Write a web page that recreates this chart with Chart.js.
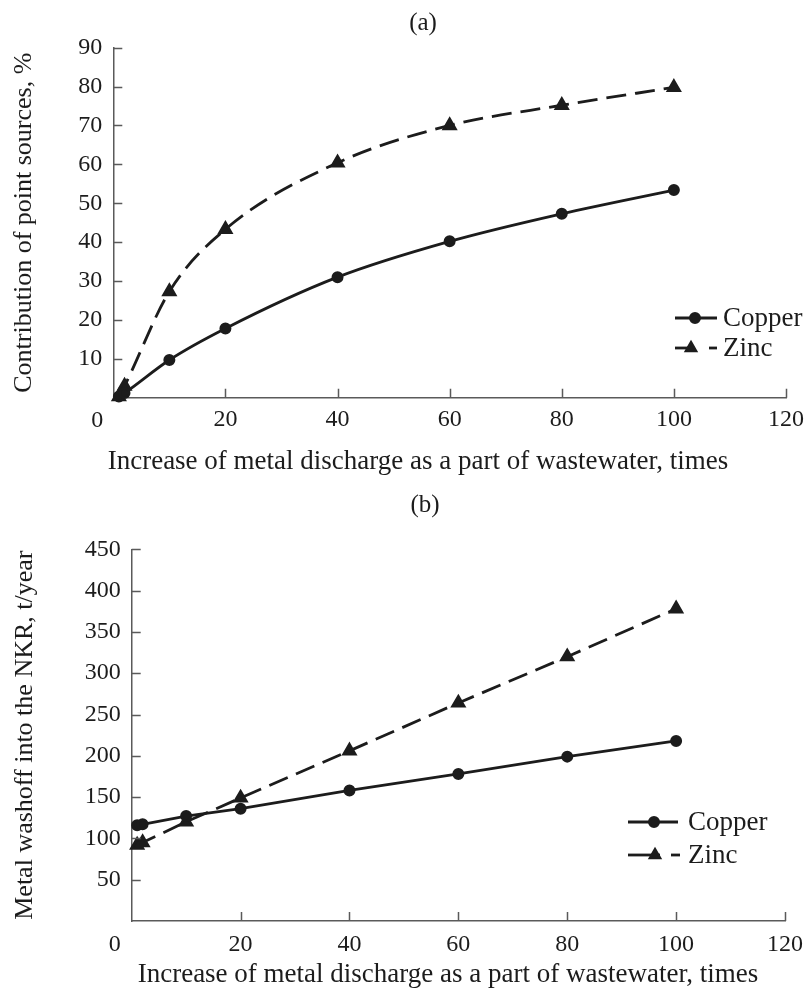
<!DOCTYPE html>
<html>
<head>
<meta charset="utf-8">
<script src="https://cdn.jsdelivr.net/npm/chart.js@4.4.0/dist/chart.umd.min.js"></script>
<style>
  html, body { margin: 0; padding: 0; background: #fff; }
  #wrap { position: relative; width: 812px; height: 999px; overflow: hidden; }
  .panel { position: absolute; left: 0; width: 812px; }
  #pa { top: 0; height: 485px; }
  #pb { top: 485px; height: 514px; }
</style>
</head>
<body>
<div id="wrap">
  <div class="panel" id="pa"><canvas id="chartA" width="812" height="485"></canvas></div>
  <div class="panel" id="pb"><canvas id="chartB" width="812" height="514"></canvas></div>
</div>
<script>
// Increase of metal discharge with wastewater, times
const xTimes = [1, 2, 10, 20, 40, 60, 80, 100];

// (a) contribution of point sources, %
const copperShare = [0.3, 1.2, 9.7, 17.8, 31.0, 40.2, 47.3, 53.4];
const zincShare   = [0.3, 3.0, 27.3, 43.3, 60.4, 70.0, 75.2, 79.8];

// (b) metal washoff into the NKR, t/year
const copperWashoff = [116, 117, 127, 136, 158, 178, 199, 218];
const zincWashoff   = [92, 95, 120, 149, 206, 264, 320, 378];

// tick values
const xTicks       = [0, 20, 40, 60, 80, 100, 120];
const shareTicks   = [0, 10, 20, 30, 40, 50, 60, 70, 80, 90];
const washoffTicks = [0, 50, 100, 150, 200, 250, 300, 350, 400, 450];

const seriesNames = ['Copper', 'Zinc'];

const FONT = '"Liberation Serif", "Times New Roman", serif';
const FS_TICK = 24;
const FS_TITLE = 27;
const FS_YTITLE = 26;
const FS_PANEL = 25;
const INK = '#1c1c1c';
const AXIS = '#5a5a5a';

function pts(xs, ys) { return xs.map((x, i) => ({ x: x, y: ys[i] })); }

function makeDatasets(copper, zinc, smooth) {
  return [
    {
      label: seriesNames[0],
      data: pts(xTimes, copper),
      borderColor: INK, backgroundColor: INK,
      borderWidth: 2.8,
      pointStyle: 'circle', pointRadius: 4.6, pointHoverRadius: 4.6,
      cubicInterpolationMode: smooth ? 'monotone' : 'default',
      tension: 0, clip: false
    },
    {
      label: seriesNames[1],
      data: pts(xTimes, zinc),
      borderColor: INK, backgroundColor: INK,
      borderWidth: 2.8, borderDash: [20, 9],
      pointStyle: 'triangle', pointRadius: 6.5, pointHoverRadius: 6.5,
      cubicInterpolationMode: smooth ? 'monotone' : 'default',
      tension: 0, clip: false
    }
  ];
}

// inward tick marks, panel labels, titles and the legend
const decor = {
  id: 'decor',
  afterDraw(chart, args, o) {
    const ctx = chart.ctx;
    const xs = chart.scales.x, ys = chart.scales.y;
    const a = chart.chartArea;
    ctx.save();
    ctx.strokeStyle = AXIS;
    ctx.lineWidth = 1.5;
    ctx.setLineDash([]);
    ctx.beginPath();
    xs.ticks.forEach(t => {
      if (t.value === 0) return;
      const px = Math.round(xs.getPixelForValue(t.value)) + 0.5;
      ctx.moveTo(px, a.bottom); ctx.lineTo(px, a.bottom - o.tick);
    });
    ys.ticks.forEach(t => {
      if (t.value === 0) return;
      const py = Math.round(ys.getPixelForValue(t.value)) + 0.5;
      ctx.moveTo(a.left, py); ctx.lineTo(a.left + o.tick, py);
    });
    ctx.stroke();

    ctx.fillStyle = INK;
    ctx.textAlign = 'center';
    ctx.textBaseline = 'middle';
    ctx.font = FS_PANEL + 'px ' + FONT;
    ctx.fillText(o.panel, o.panelX, o.panelY);
    ctx.font = FS_TITLE + 'px ' + FONT;
    ctx.fillText(o.xTitle, o.xTitleX, o.xTitleY);
    ctx.font = FS_TICK + 'px ' + FONT;
    ctx.fillText('0', xs.getPixelForValue(0) - o.zeroShift, o.zeroY);

    ctx.font = FS_YTITLE + 'px ' + FONT;
    ctx.save();
    ctx.translate(o.yTitleX, (a.top + a.bottom) / 2);
    ctx.rotate(-Math.PI / 2);
    ctx.fillText(o.yTitle, 0, 0);
    ctx.restore();

    // legend
    const L = o.legend;
    const ds = chart.data.datasets;
    ctx.lineWidth = ds[0].borderWidth;
    ctx.strokeStyle = INK;
    // Copper: solid line with a dot in the middle
    ctx.beginPath(); ctx.moveTo(L.x0, L.y0); ctx.lineTo(L.x1, L.y0); ctx.stroke();
    Chart.helpers.drawPoint(ctx, { pointStyle: ds[0].pointStyle, radius: ds[0].pointRadius, rotation: 0, borderWidth: 1 },
      L.dot, L.y0);
    // Zinc: short solid run, triangle, then a dash
    ctx.beginPath(); ctx.moveTo(L.x0, L.y1); ctx.lineTo(L.zSeg, L.y1); ctx.stroke();
    ctx.beginPath(); ctx.moveTo(L.zDash0, L.y1); ctx.lineTo(L.zDash1, L.y1); ctx.stroke();
    ctx.fillStyle = INK;
    Chart.helpers.drawPoint(ctx, { pointStyle: ds[1].pointStyle, radius: ds[1].pointRadius - 1, rotation: 0, borderWidth: 1 },
      L.tri, L.y1);
    ctx.fillStyle = INK;
    ctx.font = FS_TITLE + 'px ' + FONT;
    ctx.textAlign = 'left';
    ctx.textBaseline = 'middle';
    ctx.fillText(ds[0].label, L.tx, L.y0 + 1);
    ctx.fillText(ds[1].label, L.tx, L.y1 + 1);
    ctx.restore();
  }
};

function makeChart(id, copper, zinc, yTicks, yMax, smooth, geo, deco) {
  return new Chart(document.getElementById(id), {
    type: 'line',
    data: { datasets: makeDatasets(copper, zinc, smooth) },
    options: {
      responsive: false,
      animation: false,
      devicePixelRatio: 1,
      layout: { autoPadding: false, padding: { top: geo.top, right: geo.right, bottom: 0, left: 0 } },
      plugins: { legend: { display: false }, tooltip: { enabled: false }, decor: deco },
      scales: {
        x: {
          type: 'linear', min: 0, max: 120,
          afterBuildTicks: s => { s.ticks = xTicks.map(v => ({ value: v })); },
          afterFit: s => { s.height = geo.xh; },
          grid: { display: false, drawTicks: false },
          border: { display: true, color: AXIS, width: 1.5 },
          ticks: {
            color: INK, font: { family: FONT, size: FS_TICK }, padding: geo.xpad,
            maxRotation: 0, autoSkip: false,
            callback: v => (v === 0 ? '' : String(v))
          }
        },
        y: {
          type: 'linear', min: 0, max: yMax,
          afterBuildTicks: s => { s.ticks = yTicks.map(v => ({ value: v })); },
          afterFit: s => { s.width = geo.yw; },
          grid: { display: false, drawTicks: false },
          border: { display: true, color: AXIS, width: 1.5 },
          ticks: {
            color: INK, font: { family: FONT, size: FS_TICK }, padding: 11,
            autoSkip: false,
            callback: v => (v === 0 ? '' : String(v))
          }
        }
      }
    },
    plugins: [decor]
  });
}

const xTitleText = 'Increase of metal discharge as a part of wastewater, times';

makeChart('chartA', copperShare, zincShare, shareTicks, 90, true,
  { top: 47.7, right: 23.5, xh: 87.3, yw: 113.3, xpad: 8 },
  {
    tick: 9, panel: '(a)', panelX: 423, panelY: 23,
    xTitle: xTitleText, xTitleX: 418, xTitleY: 462,
    zeroShift: 16, zeroY: 421,
    yTitle: 'Contribution of point sources, %', yTitleX: 24,
    legend: { x0: 675, x1: 717, dot: 695, y0: 318, y1: 348, zSeg: 694, tri: 691, zDash0: 709, zDash1: 717, tx: 723 }
  });

makeChart('chartB', copperWashoff, zincWashoff, washoffTicks, 450, false,
  { top: 64.3, right: 17.6, xh: 78, yw: 131.7, xpad: 9 },
  {
    tick: 9, panel: '(b)', panelX: 425, panelY: 20,
    xTitle: xTitleText, xTitleX: 448, xTitleY: 490,
    zeroShift: 17, zeroY: 460,
    yTitle: 'Metal washoff into the NKR, t/year', yTitleX: 25,
    legend: { x0: 628, x1: 678, dot: 654, y0: 337, y1: 370, zSeg: 660, tri: 655, zDash0: 671, zDash1: 680, tx: 688 }
  });
</script>
</body>
</html>
